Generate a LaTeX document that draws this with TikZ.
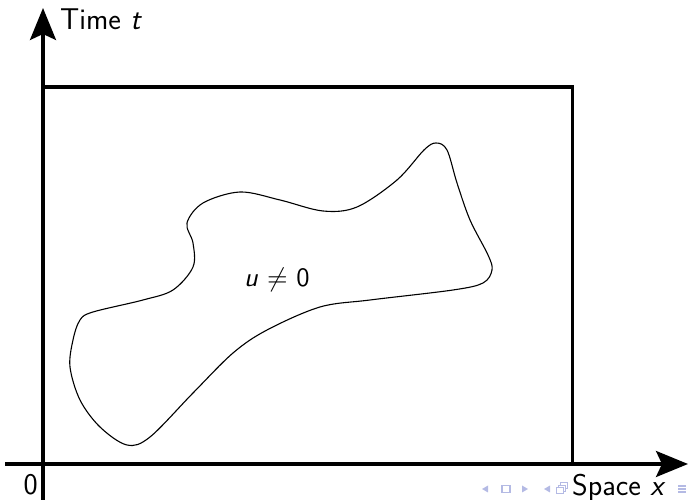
\documentclass[tikz,border=0pt]{standalone}
\usepackage{fontspec}
\usepackage{graphicx}
\usetikzlibrary{arrows.meta}
\definecolor{navcol}{RGB}{180,186,228}
\tikzset{
  axis/.style={line width=3.2pt, -{Stealth[length=32pt,width=26pt,inset=6pt]}},
  frame/.style={line width=3.2pt},
  blob/.style={line width=1.1pt},
  lbl/.style={inner sep=0pt, font=\fontsize{30}{36}\selectfont\sffamily},
  nav/.style={fill=navcol, draw=none},
}
\begin{document}
\begin{tikzpicture}[x=1pt,y=1pt]
\useasboundingbox (0,0) rectangle (688,500);
% frame
\draw[frame] (43,36) -- (43,413) -- (572.5,413) -- (572.5,36);
% axes
\coordinate (xs) at (5,36);
\coordinate (xe) at (688,36);
\coordinate (ys) at (43,0);
\coordinate (ye) at (43,492);
\draw[axis] (xs) -- (xe);
\draw[axis] (ys) -- (ye);
% blob
\draw[blob] plot[smooth cycle, tension=0.55] coordinates {
 (436,357) (447,350) (457,317) (470,280) (488,245) (492,230) (483,217)
 (453,210) (370,200) (320,193) (267,170) (233,147) (193,107) (150,63)
 (127,55) (100,73) (80,100) (70,133) (73,160) (80,180) (93,188)
 (143,200) (173,210) (193,233) (193,257) (187,277) (203,297) (240,308)
 (280,300) (323,289) (357,293) (397,320) (424,350)};
% navigation symbols
\fill[nav] (482,11) -- (488,14.5) -- (488,7.5) -- cycle;
\draw[navcol, line width=1.2pt] (502,7.5) rectangle (510,14.5);
\fill[nav] (528,11) -- (522,14.5) -- (522,7.5) -- cycle;
\fill[nav] (544,11) -- (550,14.5) -- (550,7.5) -- cycle;
\draw[navcol, line width=1pt] (556,6) rectangle (563,12)
  (558,12) -- (558,14.5) -- (565,14.5) -- (565,8.5) -- (563,8.5)
  (560,14.5) -- (560,17) -- (567,17) -- (567,11) -- (565,11);
\foreach \yy in {8,11,14}{\draw[navcol, line width=1.2pt] (678,\yy) -- (686,\yy);}
% labels
\node[lbl, anchor=base west] (tl) at (60,470) {Time \textit{t}};
\node[lbl, anchor=base east] (zl) at (38,5) {0};
\node[lbl, anchor=base west] (sl) at (572,4) {Space \textit{x}};
\node[inner sep=0pt, anchor=base west] (ul) at (244,213) {\scalebox{2.65}{\sffamily\textit{u} $\neq$ 0}};
\end{tikzpicture}
\end{document}
